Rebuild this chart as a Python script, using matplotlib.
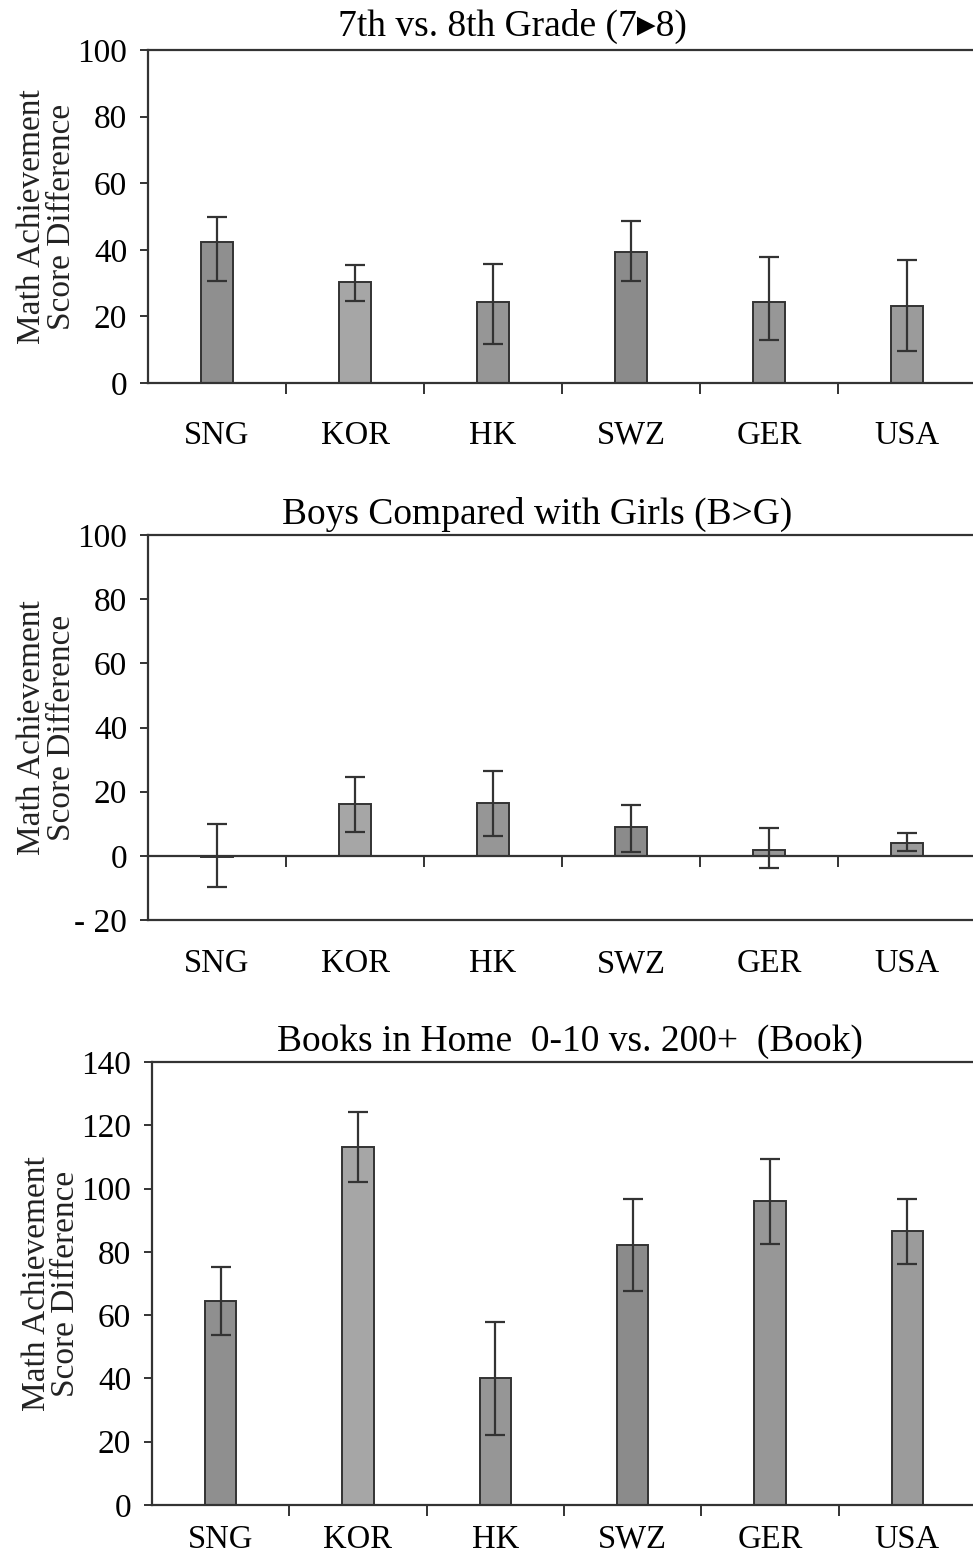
import matplotlib
matplotlib.use("Agg")
import matplotlib.pyplot as plt
import numpy as np
from matplotlib.ticker import FuncFormatter, FixedLocator

plt.rcParams['font.family'] = ['Liberation Serif', 'DejaVu Serif', 'DejaVu Sans']

countries = ["SNG", "KOR", "HK", "SWZ", "GER", "USA"]

# 7th vs 8th grade
grade_val = [42.4, 30.3, 24.2, 39.4, 24.3, 23.2]
grade_lo = [30.6, 24.5, 11.8, 30.6, 13.0, 9.7]
grade_hi = [49.9, 35.4, 35.6, 48.7, 37.9, 36.9]

# boys vs girls
sex_val = [-0.5, 16.2, 16.4, 8.9, 1.9, 3.9]
sex_lo = [-9.8, 7.3, 6.2, 1.2, -3.9, 1.5]
sex_hi = [10.0, 24.6, 26.5, 15.7, 8.6, 7.1]

# books in home
book_val = [64.6, 113.0, 40.0, 82.1, 96.1, 86.6]
book_lo = [53.8, 102.1, 22.0, 67.7, 82.6, 76.3]
book_hi = [75.3, 124.3, 57.8, 96.6, 109.3, 96.8]

bar_cols = ["#8f8f8f", "#a6a6a6", "#969696", "#8b8b8b", "#979797", "#9b9b9b"]
ink = "#333333"

W, H = 973, 1555
fig = plt.figure(figsize=(W / 100, H / 100), dpi=100)


def box(l, t, b):
    return [l / W, 1 - b / H, (976 - l) / W, (b - t) / H]


def panel(rect, vals, lo, hi, ylim, yticks, title, tx, tpad, labpad, zero_axis=False):
    ax = fig.add_axes(rect)
    x = np.arange(len(countries))
    v = np.array(vals)
    yerr = [v - np.array(lo), np.array(hi) - v]
    ax.bar(x, v, width=0.23, color=bar_cols, edgecolor=ink, linewidth=1.4, zorder=2)
    ax.errorbar(x, v, yerr=yerr, fmt="none", ecolor=ink, elinewidth=1.6,
                capsize=7.5, capthick=1.6, zorder=3)
    ax.set_xlim(-0.5, 5.5)
    ax.set_ylim(*ylim)
    ax.set_yticks(yticks)
    ax.yaxis.set_major_formatter(FuncFormatter(
        lambda y, p: ("- %d" % abs(y)) if y < 0 else "%d" % y))
    ax.set_xticks(x)
    ax.set_xticklabels(countries)
    ax.xaxis.set_minor_locator(FixedLocator(np.arange(0.5, 5, 1.0)))
    ax.tick_params(axis="x", which="major", length=0, pad=labpad, labelsize=23.5)
    ax.tick_params(axis="x", which="minor", length=8, width=1.4, color=ink, direction="out")
    ax.tick_params(axis="y", length=6, width=1.4, color=ink, direction="out",
                   labelsize=24, pad=9)
    for s in ["left", "top", "bottom"]:
        ax.spines[s].set_linewidth(1.6)
        ax.spines[s].set_color(ink)
    ax.spines["right"].set_visible(False)
    if zero_axis:
        ax.spines["bottom"].set_position(("data", 0))
        ax.axhline(ylim[0], color=ink, linewidth=1.6, clip_on=False, zorder=1)
    ax.set_title(title, fontsize=27, x=tx, pad=tpad)
    ax.set_ylabel("Math Achievement\nScore Difference", fontsize=24, linespacing=0.95,
                  color="#222222")
    ax.yaxis.set_label_coords(-0.086, 0.5)
    return ax


panel(box(148, 50, 383), grade_val, grade_lo, grade_hi, (0, 100),
      [0, 20, 40, 60, 80, 100], "7th vs. 8th Grade (7\u25b88)", 0.44, 10, 27)
panel(box(148, 535, 920), sex_val, sex_lo, sex_hi, (-20, 100),
      [-20, 0, 20, 40, 60, 80, 100], "Boys Compared with Girls (B>G)", 0.47, 8, 67,
      zero_axis=True)
panel(box(152, 1062, 1505), book_val, book_lo, book_hi, (0, 140),
      [0, 20, 40, 60, 80, 100, 120, 140], "Books in Home  0-10 vs. 200+  (Book)",
      0.507, 8, 14)

fig.savefig("out.png", dpi=100)
